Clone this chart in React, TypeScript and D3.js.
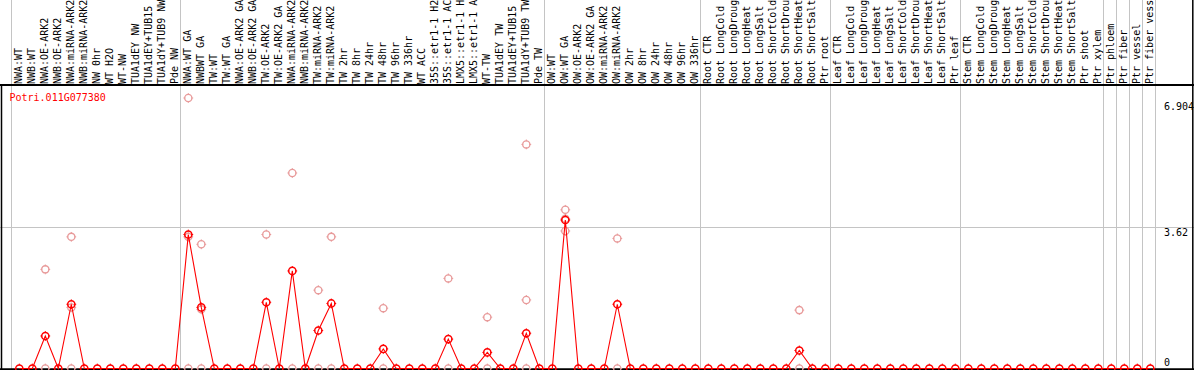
import React from 'react';
import * as d3 from 'd3';

const geneId = 'Potri.011G077380';

const conditions = [
  'NWA:WT', 'NWB:WT', 'NWA:OE-ARK2', 'NWB:OE-ARK2', 'NWA:miRNA-ARK2', 'NWB:miRNA-ARK2', 'NW 0hr', 'WT H2O', 'WT-NW', 'TUA1dEY NW', 'TUA1dEY+TUB15', 'TUA1dY+TUB9 NW', 'Pde NW',
  'NWA:WT GA', 'NWBWT GA', 'TW:WT', 'TW:WT GA', 'NWA:OE-ARK2 GA', 'NWB:OE-ARK2 GA', 'TW:OE-ARK2', 'TW:OE-ARK2 GA', 'NWA:miRNA-ARK2', 'NWB:miRNA-ARK2', 'TW:miRNA-ARK2', 'TW:miRNA-ARK2', 'TW 2hr', 'TW 8hr', 'TW 24hr', 'TW 48hr', 'TW 96hr', 'TW 336hr', 'WT ACC', '35S::etr1-1 H2', '35S::etr1-1 AC', 'LMX5::etr1-1 H', 'LMX5::etr1-1 A', 'WT-TW', 'TUA1dEY TW', 'TUA1dEY+TUB15', 'TUA1dY+TUB9 TW', 'Pde TW',
  'OW:WT', 'OW:WT GA', 'OW:OE-ARK2', 'OW:OE-ARK2 GA', 'OW:miRNA-ARK2', 'OW:miRNA-ARK2', 'OW 2hr', 'OW 8hr', 'OW 24hr', 'OW 48hr', 'OW 96hr', 'OW 336hr',
  'Root CTR', 'Root LongCold', 'Root LongDroug', 'Root LongHeat', 'Root LongSalt', 'Root ShortCold', 'Root ShortDrou', 'Root ShortHeat', 'Root ShortSalt', 'Ptr root',
  'Leaf CTR', 'Leaf LongCold', 'Leaf LongDroug', 'Leaf LongHeat', 'Leaf LongSalt', 'Leaf ShortCold', 'Leaf ShortDrou', 'Leaf ShortHeat', 'Leaf ShortSalt', 'Ptr leaf',
  'Stem CTR', 'Stem LongCold', 'Stem LongDroug', 'Stem LongHeat', 'Stem LongSalt', 'Stem ShortCold', 'Stem ShortDrou', 'Stem ShortHeat', 'Stem ShortSalt', 'Ptr shoot', 'Ptr xylem',
  'Ptr phloem', 'Ptr fiber', 'Ptr vessel', 'Ptr fiber vess',
];

// index of first condition of each group (last entry = end)
const groupStarts = [0, 13, 41, 53, 63, 73, 84, 85, 86, 87, 88];

const meanValues = [
  0, 0, 0.83, 0, 1.64, 0, 0, 0, 0, 0, 0, 0, 0,
  3.42, 1.56, 0, 0, 0, 0, 1.69, 0, 2.49, 0, 0.97, 1.66, 0, 0, 0, 0.50, 0, 0, 0, 0, 0.75, 0, 0, 0.41, 0, 0, 0.90, 0,
  0, 3.79, 0, 0, 0, 1.64, 0, 0, 0, 0, 0, 0,
  0, 0, 0, 0, 0, 0, 0, 0.46, 0, 0,
  0, 0, 0, 0, 0, 0, 0, 0, 0, 0,
  0, 0, 0, 0, 0, 0, 0, 0, 0, 0, 0,
  0, 0, 0, 0,
];

// individual replicate samples (column index, value)
const replicateCols = [2, 2, 4, 4, 4, 13, 13, 13, 14, 14, 14, 19, 19, 21, 21, 23, 23, 24, 24, 28, 28, 33, 33, 36, 36, 39, 39, 39, 42, 42, 42, 46, 46, 60, 60];
const replicateVals = [2.53, 0, 3.36, 1.56, 0, 6.904, 3.36, 0, 3.17, 1.51, 0, 3.42, 0, 4.99, 0, 2.0, 0, 3.36, 0, 1.54, 0, 2.30, 0, 1.31, 0, 5.72, 1.75, 0, 4.05, 3.51, 3.82, 3.32, 0, 1.49, 0];

const yTicks = [6.904, 3.62, 0];
const yTickDy = [12, 9, -3];
const gridTick = 3.62;

const W = 1194;
const H = 370;
const headerBottom = 85;
const RED = '#ff0000';
const PALE = '#e89a9a';
const GRID = '#c4c4c4';
const FONT = '"DejaVu Sans Mono", "Liberation Mono", monospace';

function Marker({ x, y, color, sw }: { x: number; y: number; color: string; sw: number }) {
  const r = 3.6;
  return (
    <g stroke={color} strokeWidth={sw} fill="none">
      <circle cx={x} cy={y} r={r} />
      <line x1={x} y1={y - r - 1.3} x2={x} y2={y - r + 0.5} strokeWidth={1} />
      <line x1={x} y1={y + r - 0.5} x2={x} y2={y + r + 1.3} strokeWidth={1} />
      <line x1={x - r - 1.3} y1={y} x2={x - r + 0.5} y2={y} strokeWidth={1} />
      <line x1={x + r - 0.5} y1={y} x2={x + r + 1.3} y2={y} strokeWidth={1} />
    </g>
  );
}

export default function App() {
  const x = d3.scaleLinear().domain([0, conditions.length - 1]).range([19.3, 19.3 + 13 * (conditions.length - 1)]);
  const y = d3.scaleLinear().domain([0, 6.904]).range([368.5, 98]);

  const linePath = d3
    .line<number>()
    .x((_, i) => x(i))
    .y((d) => y(d))(meanValues) as string;

  return (
    <svg
      width={W}
      height={H}
      viewBox={`0 0 ${W} ${H}`}
      style={{ position: 'fixed', left: 0, top: 0, background: '#fff' }}
      fontFamily={FONT}
    >
      <rect x={0} y={0} width={W} height={H} fill="#fff" />
      {/* group separators */}
      {groupStarts.map((g, i) => {
        const gx = Math.round(x(g) - 8) + 0.5;
        return <line key={'g' + i} x1={gx} x2={gx} y1={0} y2={H} stroke={GRID} strokeWidth={1} />;
      })}
      {/* grid line at mid tick */}
      <line x1={0} x2={W} y1={Math.round(y(gridTick)) + 0.5} y2={Math.round(y(gridTick)) + 0.5} stroke={GRID} strokeWidth={1} />

      {/* header labels */}
      {conditions.map((c, i) => (
        <text
          key={'l' + i}
          transform={`translate(${x(i) + 2.5},84) rotate(-90)`}
          fontSize={10}
          fill="#000"
        >
          {c}
        </text>
      ))}

      {/* borders */}
      <line x1={0} x2={W} y1={headerBottom} y2={headerBottom} stroke="#000" strokeWidth={2} />
      <line x1={1.5} x2={1.5} y1={headerBottom} y2={H} stroke="#000" strokeWidth={1.5} />
      <line x1={1192.8} x2={1192.8} y1={0} y2={H} stroke="#000" strokeWidth={1.5} />
      <line x1={0} x2={W} y1={369.2} y2={369.2} stroke="#000" strokeWidth={2} />

      {/* gene id */}
      <text x={9.5} y={101} fontSize={10} fill={RED}>
        {geneId}
      </text>

      {/* y tick labels */}
      {yTicks.map((t, i) => (
        <text key={'t' + i} x={1164} y={y(t) + yTickDy[i]} fontSize={10} fill="#000">
          {String(t)}
        </text>
      ))}

      {/* replicates */}
      {replicateCols.map((c, i) => (
        <Marker key={'r' + i} x={x(c)} y={y(replicateVals[i])} color={PALE} sw={1.3} />
      ))}

      {/* mean line */}
      <path d={linePath} fill="none" stroke={RED} strokeWidth={1.1} />
      {meanValues.map((v, i) => (
        <Marker key={'m' + i} x={x(i)} y={y(v)} color={RED} sw={1.5} />
      ))}
    </svg>
  );
}
